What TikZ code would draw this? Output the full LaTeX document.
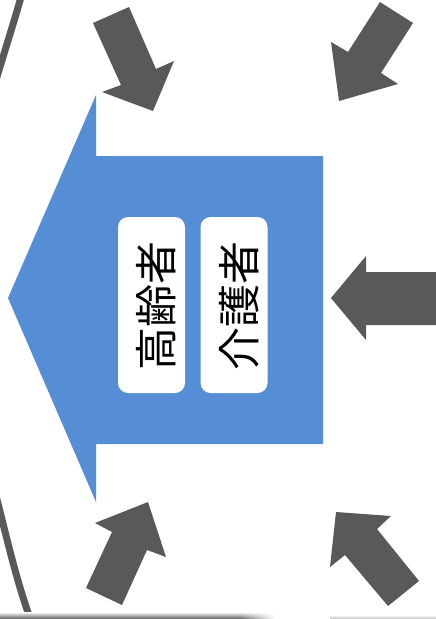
\documentclass[tikz,border=0pt]{standalone}
\usepackage{fontspec}
\usetikzlibrary{fadings}
\newfontfamily\cjk{Noto Sans CJK JP}
\definecolor{arrblue}{HTML}{558ED5}
\definecolor{arrgray}{HTML}{595959}
\begin{document}
\begin{tikzpicture}[x=1pt,y=-1pt,
  grayarrow/.style={fill=arrgray,draw=none},
  arcline/.style={draw=arrgray,line width=7pt},
  labelbox/.style={fill=white,draw=none,rounded corners=10pt,minimum width=67pt,minimum height=176pt},
  vtext/.style={rotate=90,font=\cjk\fontsize{43}{43}\selectfont,inner sep=0pt}]
\useasboundingbox (0,0) rectangle (436,619);
\fill[white] (0,0) rectangle (436,619);
% left arc
\begin{scope}
\clip (0,0) rectangle (436,619);
\draw[arcline] (21,-3) .. controls (14,22) and (5,50) .. (-4,80);
\draw[arcline] (-5,492) .. controls (5,530) and (17,585) .. (33,626);
\end{scope}
% bottom shadow
\shade[top color=white,bottom color=black!65] (0,612) rectangle (240,619);
\shade[top color=white,bottom color=black!65,path fading=east] (240,612) rectangle (275,619);
\shade[top color=white,bottom color=black!25] (330,615) rectangle (436,619);
% big blue arrow
\fill[arrblue] (8,298) -- (96,95) -- (96,156) -- (323,156) -- (323,444) -- (96,444) -- (96,502) -- cycle;
% label boxes
\node[labelbox] (b1) at (151.5,305) {};
\node[labelbox] (b2) at (234,305) {};
\node[vtext] (t1) at (156,306) {高齢者};
\node[vtext] (t2) at (239,306) {介護者};
% gray arrows
\fill[grayarrow] (93,23) -- (129,7) -- (156,69) -- (174,61) -- (153,111) -- (102,92) -- (121,85) -- cycle;
\fill[grayarrow] (380,2) -- (413,23) -- (381,73) -- (398,84) -- (339,101) -- (331,42) -- (348,52) -- cycle;
\fill[grayarrow] (436,272) -- (366,272) -- (366,256) -- (331,298) -- (366,340) -- (366,325) -- (436,325) -- cycle;
\fill[grayarrow] (86,588) -- (122,605) -- (147,550) -- (166,557) -- (148,502) -- (95,523) -- (112,532) -- cycle;
\fill[grayarrow] (419,581) -- (388,606) -- (345,555) -- (330,567) -- (336,512) -- (391,516) -- (377,529) -- cycle;
\end{tikzpicture}
\end{document}
